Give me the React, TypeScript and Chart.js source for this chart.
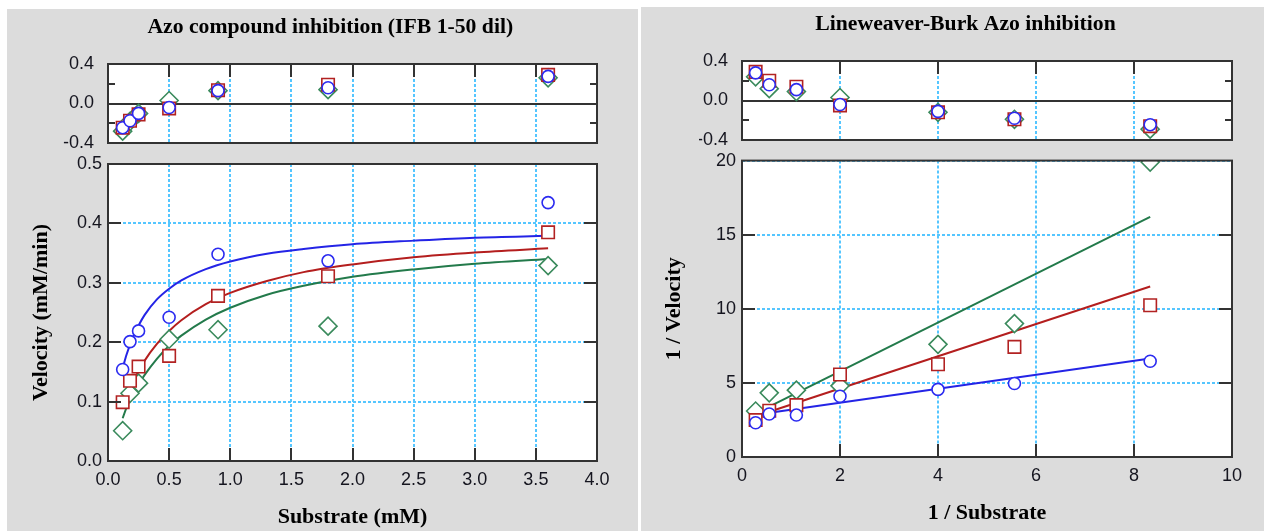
import React, { useEffect, useRef } from "react";
import { Chart, registerables } from "chart.js";

Chart.register(...registerables);

// ---------------- data ----------------
// Michaelis-Menten panel
const substrate = [0.12, 0.18, 0.25, 0.5, 0.9, 1.8, 3.6];
const velocityBlue = [0.154, 0.201, 0.219, 0.242, 0.348, 0.337, 0.435];
const velocityRed = [0.099, 0.135, 0.159, 0.177, 0.278, 0.311, 0.385];
const velocityGreen = [0.051, 0.114, 0.131, 0.205, 0.221, 0.227, 0.329];

const curveSubstrate = [0.12, 0.15, 0.2, 0.25, 0.3, 0.4, 0.5, 0.6, 0.8, 1.0, 1.3, 1.6, 2.0, 2.5, 3.0, 3.6];
const curveBlue = [0.156, 0.178, 0.206, 0.228, 0.246, 0.272, 0.29, 0.304, 0.323, 0.336, 0.349, 0.357, 0.365, 0.371, 0.376, 0.379];
const curveRed = [0.09, 0.107, 0.131, 0.151, 0.169, 0.197, 0.219, 0.237, 0.264, 0.283, 0.303, 0.318, 0.331, 0.343, 0.351, 0.358];
const curveGreen = [0.072, 0.089, 0.111, 0.129, 0.145, 0.172, 0.194, 0.211, 0.238, 0.258, 0.28, 0.295, 0.31, 0.3225, 0.332, 0.34];

const residualBlue = [-0.245, -0.175, -0.1, -0.04, 0.13, 0.16, 0.275];
const residualRed = [-0.245, -0.175, -0.11, -0.05, 0.135, 0.19, 0.29];
const residualGreen = [-0.28, -0.18, -0.1, 0.03, 0.13, 0.14, 0.26];

// Lineweaver-Burk panel
const invSubstrate = [8.33, 5.56, 4, 2, 1.11, 0.556, 0.278];
const invVelocityBlue = [6.46, 4.96, 4.56, 4.1, 2.83, 2.9, 2.31];
const invVelocityRed = [10.24, 7.43, 6.26, 5.57, 3.5, 3.12, 2.49];
const invVelocityGreen = [19.9, 9.0, 7.6, 4.8, 4.51, 4.33, 3.1];

const lbResidualBlue = [-0.245, -0.18, -0.11, -0.04, 0.11, 0.16, 0.28];
const lbResidualRed = [-0.26, -0.19, -0.12, -0.05, 0.14, 0.2, 0.29];
const lbResidualGreen = [-0.29, -0.19, -0.12, 0.03, 0.09, 0.12, 0.24];

const lbLineX = [0.278, 8.33];
const lbLineBlue = [2.85, 6.65];
const lbLineRed = [2.75, 11.5];
const lbLineGreen = [2.95, 16.2];

// tick values and labels
const mmXTicks = [0, 0.5, 1, 1.5, 2, 2.5, 3, 3.5, 4];
const mmXLabels = ["0.0", "0.5", "1.0", "1.5", "2.0", "2.5", "3.0", "3.5", "4.0"];
const mmYTicks = [0, 0.1, 0.2, 0.3, 0.4, 0.5];
const mmYLabels = ["0.0", "0.1", "0.2", "0.3", "0.4", "0.5"];
const resYTicks = [-0.4, 0, 0.4];
const resYLabels = ["-0.4", "0.0", "0.4"];
const resMinorTicks = [-0.2, 0.2];
const lbXTicks = [0, 2, 4, 6, 8, 10];
const lbXLabels = ["0", "2", "4", "6", "8", "10"];
const lbYTicks = [0, 5, 10, 15, 20];
const lbYLabels = ["0", "5", "10", "15", "20"];

// ---------------- styles ----------------
const serif = "'Liberation Serif', 'Times New Roman', Times, serif";
const sans = "'Liberation Sans', Arial, sans-serif";
const gray = "#dcdcdc";
const gridColor = "#55c6ff";
const frameColor = "#333333";
const tickTextColor = "#15151f";
const blueLine = "#2424e6";
const redLine = "#b41e1e";
const greenLine = "#237a4b";
const blueMark = "#2b2bf0";
const redMark = "#b22222";
const greenMark = "#3a8a5c";

// ---------------- helpers ----------------
const fixedTicks = (values: number[]) => (scale: any) => {
  scale.ticks = values.map((v) => ({ value: v }));
};

const framePlugin = {
  id: "frame",
  beforeDraw(chart: any) {
    const { ctx, chartArea: a } = chart;
    ctx.save();
    ctx.fillStyle = "#ffffff";
    ctx.fillRect(a.left, a.top, a.right - a.left, a.bottom - a.top);
    ctx.restore();
  },
  beforeDatasetsDraw(chart: any, _args: any, opts: any) {
    if (!opts.zeroLine) return;
    const { ctx, chartArea: a } = chart;
    const y = Math.round(chart.scales.y.getPixelForValue(0));
    ctx.save();
    ctx.strokeStyle = frameColor;
    ctx.lineWidth = 2;
    ctx.beginPath();
    ctx.moveTo(a.left, y);
    ctx.lineTo(a.right, y);
    ctx.stroke();
    ctx.restore();
  },
  afterDatasetsDraw(chart: any, _args: any, opts: any) {
    const { ctx, chartArea: a, scales } = chart;
    const len = opts.len || 13;
    const minorLen = opts.minorLen || 7;
    const inner = (scale: any) =>
      scale.ticks.map((t: any) => t.value).filter((v: number) => v > scale.min && v < scale.max);
    ctx.save();
    ctx.strokeStyle = frameColor;
    ctx.lineWidth = 2;
    ctx.beginPath();
    for (const v of inner(scales.x)) {
      const px = Math.round(scales.x.getPixelForValue(v));
      if (opts.top) {
        ctx.moveTo(px, a.top);
        ctx.lineTo(px, a.top + len);
      }
      if (opts.bottom) {
        ctx.moveTo(px, a.bottom);
        ctx.lineTo(px, a.bottom - len);
      }
    }
    if (opts.sides) {
      for (const v of inner(scales.y)) {
        const py = Math.round(scales.y.getPixelForValue(v));
        ctx.moveTo(a.left, py);
        ctx.lineTo(a.left + len, py);
        ctx.moveTo(a.right, py);
        ctx.lineTo(a.right - len, py);
      }
    }
    for (const v of opts.minor || []) {
      const py = Math.round(scales.y.getPixelForValue(v));
      ctx.moveTo(a.left, py);
      ctx.lineTo(a.left + minorLen, py);
      ctx.moveTo(a.right, py);
      ctx.lineTo(a.right - minorLen, py);
    }
    ctx.stroke();
    ctx.strokeRect(a.left, a.top, a.right - a.left, a.bottom - a.top);
    ctx.restore();
  },
};

function pointSet(xs: number[], ys: number[], color: string, style: string, radius: number) {
  return {
    data: xs.map((x, i) => ({ x, y: ys[i] })),
    showLine: false,
    pointStyle: style,
    pointRadius: radius,
    pointHoverRadius: radius,
    pointBorderWidth: 1.6,
    pointBorderColor: color,
    pointBackgroundColor: "#ffffff",
    borderColor: color,
    backgroundColor: "#ffffff",
    clip: 0,
  };
}

function lineSet(xs: number[], ys: number[], color: string, smooth: boolean) {
  return {
    data: xs.map((x, i) => ({ x, y: ys[i] })),
    showLine: true,
    pointRadius: 0,
    pointHoverRadius: 0,
    borderColor: color,
    borderWidth: 2,
    backgroundColor: color,
    fill: false,
    tension: 0,
    cubicInterpolationMode: smooth ? "monotone" : "default",
    clip: 0,
  };
}

const tickFont = { family: sans, size: 18, lineHeight: 1.2 };
const yTickFont = { family: sans, size: 18, lineHeight: 1 };

const circleR = 6;
const rectR = 8.8;
const diamondR = 9;

function residualConfig(opts: {
  title: string;
  xMax: number;
  xTicks: number[];
  sets: any[];
  padLeft: number;
  padRight: number;
  yWidth: number;
  xHeight: number;
  titleTop: number;
  areaTop: number;
}) {
  const titleSize = 21.7;
  return {
    type: "scatter",
    data: { datasets: opts.sets },
    plugins: [framePlugin],
    options: {
      responsive: false,
      animation: false,
      devicePixelRatio: 1,
      events: [],
      layout: { padding: { left: opts.padLeft, right: opts.padRight, top: 0, bottom: 0 } },
      plugins: {
        legend: { display: false },
        tooltip: { enabled: false },
        title: {
          display: true,
          text: opts.title,
          color: "#000000",
          font: { family: serif, size: titleSize, weight: "bold", lineHeight: 1.2 },
          padding: { top: opts.titleTop, bottom: opts.areaTop - opts.titleTop - titleSize * 1.2 },
        },
        frame: { zeroLine: true, top: true, bottom: false, sides: false, minor: resMinorTicks, len: 13, minorLen: 7 },
      },
      scales: {
        x: {
          type: "linear",
          min: 0,
          max: opts.xMax,
          afterBuildTicks: fixedTicks(opts.xTicks),
          afterFit: (s: any) => {
            s.height = opts.xHeight;
          },
          grid: { color: gridColor, lineWidth: 2, drawTicks: false },
          border: { display: false, dash: [3, 2] },
          ticks: { display: false },
        },
        y: {
          type: "linear",
          min: -0.4,
          max: 0.4,
          afterBuildTicks: fixedTicks(resYTicks),
          afterFit: (s: any) => {
            s.width = opts.yWidth;
          },
          grid: { display: false },
          border: { display: false },
          ticks: {
            callback: (_v: any, i: number) => resYLabels[i],
            padding: 6,
            color: tickTextColor,
            font: yTickFont,
          },
        },
      },
    },
  };
}

function mainConfig(opts: {
  xMin: number;
  xMax: number;
  yMax: number;
  xTicks: number[];
  xLabels: string[];
  yTicks: number[];
  yLabels: string[];
  xTitle: string;
  yTitle: string;
  sets: any[];
  padTop: number;
  padRight: number;
  xTitleBottom: number;
  yTitleTop: number;
}) {
  return {
    type: "scatter",
    data: { datasets: opts.sets },
    plugins: [framePlugin],
    options: {
      responsive: false,
      animation: false,
      devicePixelRatio: 1,
      events: [],
      layout: { padding: { left: 0, right: opts.padRight, top: opts.padTop, bottom: 0 } },
      plugins: {
        legend: { display: false },
        tooltip: { enabled: false },
        title: { display: false },
        frame: { zeroLine: false, top: false, bottom: true, sides: true, minor: [], len: 13 },
      },
      scales: {
        x: {
          type: "linear",
          min: opts.xMin,
          max: opts.xMax,
          afterBuildTicks: fixedTicks(opts.xTicks),
          afterFit: (s: any) => {
            s.height = 70;
          },
          grid: { color: gridColor, lineWidth: 2, drawTicks: false },
          border: { display: false, dash: [3, 2] },
          ticks: {
            callback: (_v: any, i: number) => opts.xLabels[i],
            autoSkip: false,
            maxRotation: 0,
            padding: 8,
            color: tickTextColor,
            font: tickFont,
          },
          title: {
            display: true,
            text: opts.xTitle,
            color: "#000000",
            font: { family: serif, size: 22, weight: "bold", lineHeight: 1.2 },
            padding: { top: 0, bottom: opts.xTitleBottom },
          },
        },
        y: {
          type: "linear",
          min: 0,
          max: opts.yMax,
          afterBuildTicks: fixedTicks(opts.yTicks),
          afterFit: (s: any) => {
            s.width = 101;
          },
          grid: {
            color: gridColor,
            lineWidth: 2,
            drawTicks: true,
            tickLength: 6,
            tickColor: "rgba(0,0,0,0)",
          },
          border: { display: false, dash: [3, 2] },
          ticks: {
            callback: (_v: any, i: number) => opts.yLabels[i],
            padding: 0,
            color: tickTextColor,
            font: yTickFont,
          },
          title: {
            display: true,
            text: opts.yTitle,
            color: "#000000",
            font: { family: serif, size: 22, weight: "bold", lineHeight: 1.2 },
            padding: { top: opts.yTitleTop, bottom: 0 },
          },
        },
      },
    },
  };
}

function ChartCanvas(props: { left: number; top: number; width: number; height: number; make: () => any }) {
  const ref = useRef<HTMLCanvasElement | null>(null);
  useEffect(() => {
    const chart = new Chart(ref.current as HTMLCanvasElement, props.make());
    return () => chart.destroy();
  }, []);
  return (
    <canvas
      ref={ref}
      width={props.width}
      height={props.height}
      style={{ position: "absolute", left: props.left, top: props.top, width: props.width, height: props.height }}
    />
  );
}

const makeMMResidual = () =>
  residualConfig({
    title: "Azo compound inhibition (IFB 1-50 dil)",
    xMax: 4,
    xTicks: mmXTicks,
    sets: [
      pointSet(substrate, residualBlue, blueMark, "circle", circleR),
      pointSet(substrate, residualRed, redMark, "rect", rectR),
      pointSet(substrate, residualGreen, greenMark, "rectRot", diamondR),
    ],
    padLeft: 56.6,
    padRight: 35,
    yWidth: 44.4,
    xHeight: 16,
    titleTop: 5.5,
    areaTop: 55,
  });

const makeMMMain = () =>
  mainConfig({
    xMin: 0,
    xMax: 4,
    yMax: 0.5,
    xTicks: mmXTicks,
    xLabels: mmXLabels,
    yTicks: mmYTicks,
    yLabels: mmYLabels,
    xTitle: "Substrate (mM)",
    yTitle: "Velocity (mM/min)",
    sets: [
      pointSet(substrate, velocityBlue, blueMark, "circle", circleR),
      pointSet(substrate, velocityRed, redMark, "rect", rectR),
      pointSet(substrate, velocityGreen, greenMark, "rectRot", diamondR),
      lineSet(curveSubstrate, curveBlue, blueLine, true),
      lineSet(curveSubstrate, curveRed, redLine, true),
      lineSet(curveSubstrate, curveGreen, greenLine, true),
    ],
    padTop: 14,
    padRight: 35,
    xTitleBottom: 0,
    yTitleTop: 21.5,
  });

const makeLBResidual = () =>
  residualConfig({
    title: "Lineweaver-Burk Azo inhibition",
    xMax: 10,
    xTicks: lbXTicks,
    sets: [
      pointSet(invSubstrate, lbResidualBlue, blueMark, "circle", circleR),
      pointSet(invSubstrate, lbResidualRed, redMark, "rect", rectR),
      pointSet(invSubstrate, lbResidualGreen, greenMark, "rectRot", diamondR),
    ],
    padLeft: 58,
    padRight: 32,
    yWidth: 43,
    xHeight: 17,
    titleTop: 4.4,
    areaTop: 54,
  });

const makeLBMain = () =>
  mainConfig({
    xMin: 0,
    xMax: 10,
    yMax: 20,
    xTicks: lbXTicks,
    xLabels: lbXLabels,
    yTicks: lbYTicks,
    yLabels: lbYLabels,
    xTitle: "1 / Substrate",
    yTitle: "1 / Velocity",
    sets: [
      pointSet(invSubstrate, invVelocityBlue, blueMark, "circle", circleR),
      pointSet(invSubstrate, invVelocityRed, redMark, "rect", rectR),
      pointSet(invSubstrate, invVelocityGreen, greenMark, "rectRot", diamondR),
      lineSet(lbLineX, lbLineBlue, blueLine, false),
      lineSet(lbLineX, lbLineRed, redLine, false),
      lineSet(lbLineX, lbLineGreen, greenLine, false),
    ],
    padTop: 10,
    padRight: 32,
    xTitleBottom: 0,
    yTitleTop: 20,
  });

export default function App() {
  return (
    <div
      style={{
        position: "fixed",
        left: 0,
        top: 0,
        width: 1264,
        height: 531,
        background: "#ffffff",
        overflow: "hidden",
      }}
    >
      <div style={{ position: "absolute", left: 7, top: 9, width: 631, height: 522, background: gray }} />
      <div style={{ position: "absolute", left: 641, top: 7, width: 623, height: 524, background: gray }} />
      <ChartCanvas left={7} top={9} width={625} height={150} make={makeMMResidual} />
      <ChartCanvas left={7} top={150} width={625} height={381} make={makeMMMain} />
      <ChartCanvas left={641} top={7} width={623} height={150} make={makeLBResidual} />
      <ChartCanvas left={641} top={150} width={623} height={377} make={makeLBMain} />
    </div>
  );
}
